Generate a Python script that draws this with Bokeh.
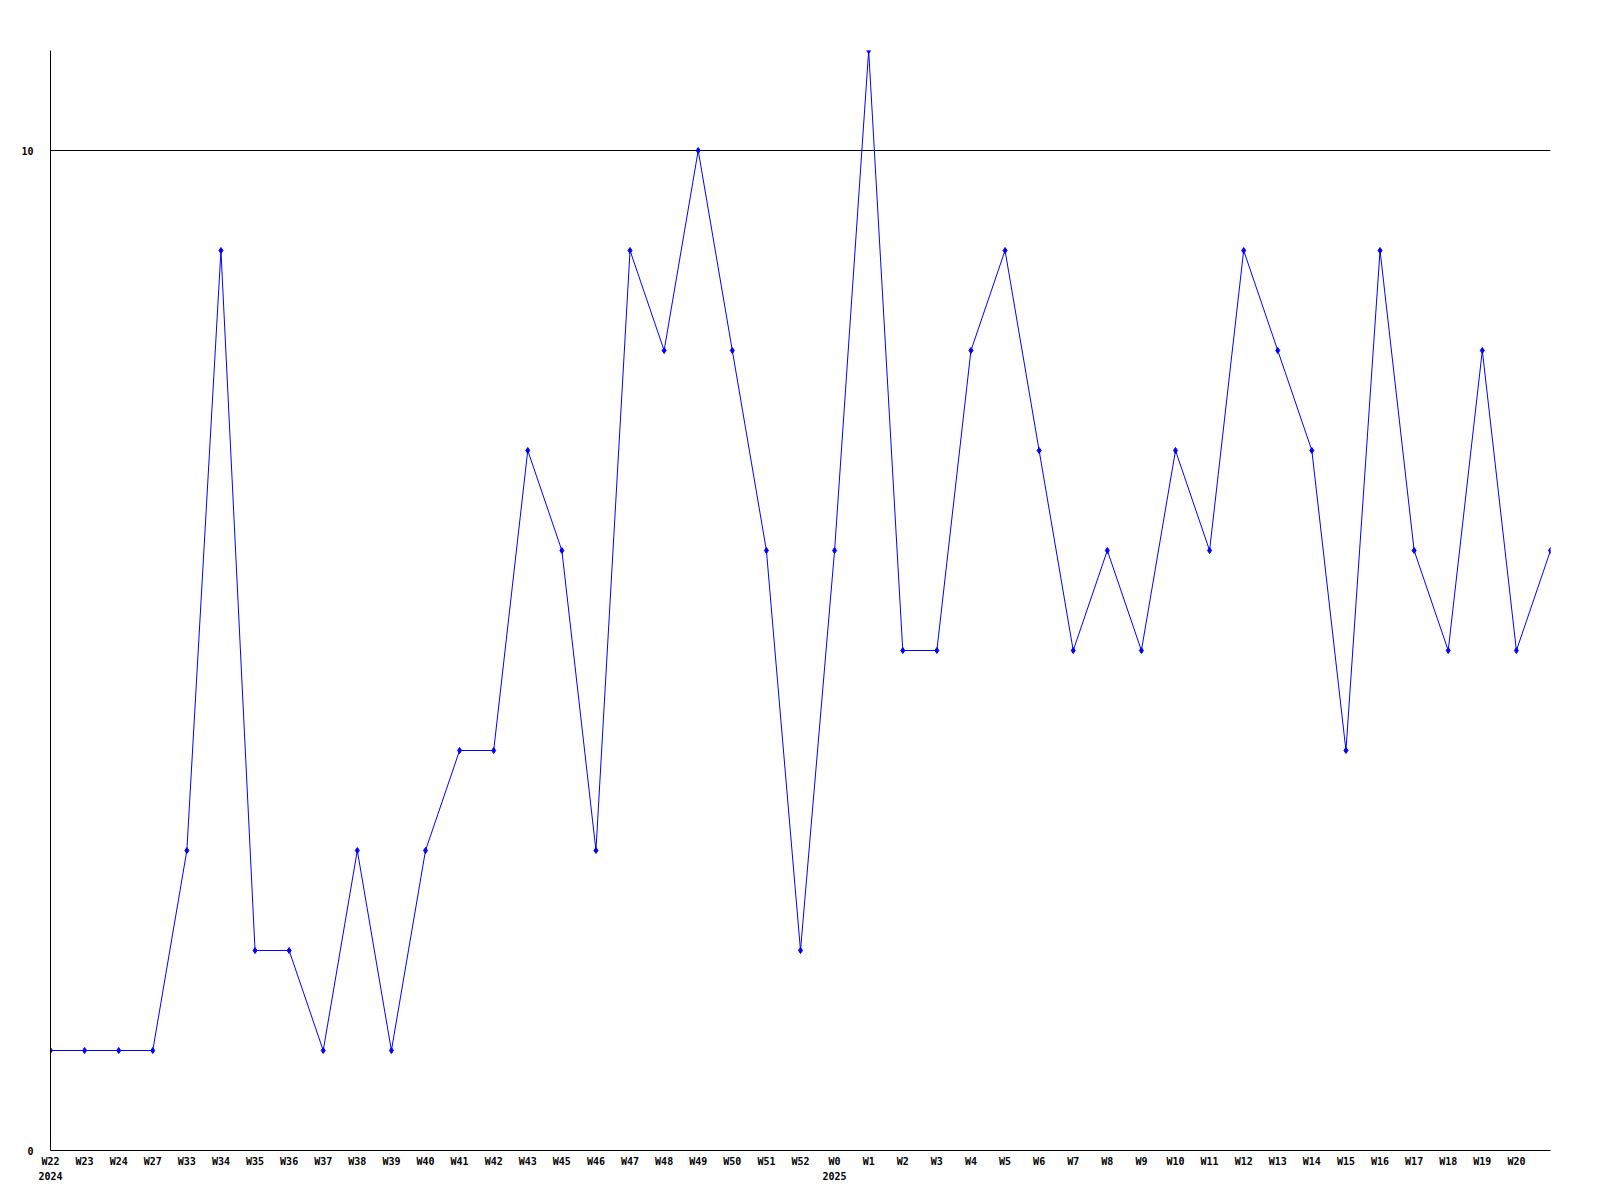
from bokeh.plotting import figure
from bokeh.models import Range1d, FixedTicker, ColumnDataSource
from bokeh.embed import file_html
from bokeh.resources import INLINE

weeks = ["W22", "W23", "W24", "W27", "W33", "W34", "W35", "W36", "W37", "W38", "W39",
         "W40", "W41", "W42", "W43", "W45", "W46", "W47", "W48", "W49", "W50", "W51",
         "W52", "W0", "W1", "W2", "W3", "W4", "W5", "W6", "W7", "W8", "W9", "W10",
         "W11", "W12", "W13", "W14", "W15", "W16", "W17", "W18", "W19", "W20", ""]
years = {"W22": "2024", "W0": "2025"}
values = [1, 1, 1, 1, 3, 9, 2, 2, 1, 3, 1,
          3, 4, 4, 7, 6, 3, 9, 8, 10, 8, 6,
          2, 6, 11, 5, 5, 8, 9, 7, 5, 6, 5, 7,
          6, 9, 8, 7, 4, 9, 6, 5, 8, 5, 6]
y_ticks = [0, 10]

xs = list(range(len(values)))
src = ColumnDataSource(dict(x=xs, y=values))

p = figure(width=1584, height=1184, output_backend="svg", toolbar_location=None,
           x_range=Range1d(0, len(values) - 1), y_range=Range1d(0, 11),
           min_border_left=50, min_border_right=34, min_border_top=50, min_border_bottom=34)
p.outline_line_color = None
p.background_fill_color = "white"

p.line("x", "y", source=src, line_color="#0000ff", line_width=1)
p.scatter("x", "y", source=src, marker="diamond", size=6, color="#0000ff")

labels = {}
for i, w in enumerate(weeks):
    lab = w
    if w in years:
        lab = w + "\n" + years[w]
    labels[i] = lab

p.xaxis.ticker = FixedTicker(ticks=xs[:-1])
p.xaxis.major_label_overrides = labels
p.yaxis.ticker = FixedTicker(ticks=y_ticks)

for ax in (p.xaxis, p.yaxis):
    ax.major_tick_out = 0
    ax.major_tick_in = 0
    ax.minor_tick_out = 0
    ax.minor_tick_in = 0
    ax.axis_line_color = "black"
    ax.axis_line_width = 1
    ax.major_label_text_font = "DejaVu Sans Mono"
    ax.major_label_text_font_style = "bold"
    ax.major_label_text_font_size = "10px"
    ax.major_label_text_color = "black"

p.xaxis.major_label_standoff = 5
p.xaxis.major_label_text_line_height = 1.4
p.yaxis.major_label_standoff = 17

p.xgrid.grid_line_color = None
p.ygrid.ticker = FixedTicker(ticks=[10])
p.ygrid.grid_line_color = "black"
p.ygrid.grid_line_alpha = 1.0
p.ygrid.grid_line_width = 1

open("out.html", "w").write(file_html(p, INLINE))
